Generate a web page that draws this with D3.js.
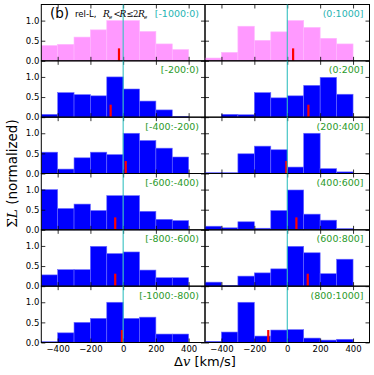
<!DOCTYPE html>
<html><head><meta charset="utf-8">
<script src="https://cdn.jsdelivr.net/npm/d3@7"></script>
<style>body{margin:0;background:#fff}svg{display:block}</style>
</head><body>
<script>
const binStarts = [-500,-400,-300,-200,-100,0,100,200,300,400];
const binWidth = 100;
const panelLabels = [
  ["[-1000:0)","(0:1000]"],
  ["[-200:0)","(0:200]"],
  ["[-400:-200)","(200:400]"],
  ["[-600:-400)","(400:600]"],
  ["[-800:-600)","(600:800]"],
  ["[-1000:-800)","(800:1000]"]
];
const leftValues = [
  [0.38,0.41,0.59,0.77,1.0,1.0,0.73,0.42,0.28,0],
  [0.07,0.61,0.56,0.53,1.0,0.70,0.40,0.18,0.02,0],
  [0.53,0.11,0.39,0.53,0.47,1.0,0.82,0.63,0.41,0],
  [1.0,0.53,0.64,0.48,0.85,0.85,0.46,0.26,0.23,0],
  [0.28,0.41,0.41,0.99,0.81,0.85,0.40,0.21,0.21,0],
  [0.02,0.24,0.50,0.60,1.0,0.60,0.63,0.21,0.21,0]
];
const rightValues = [
  [0.07,0.21,0.86,0.51,0.72,1.0,0.83,0.56,0.42,0],
  [0,0.07,0.06,0.61,0.48,0.53,0.79,0.99,0.57,0],
  [0.02,0.02,0.49,0.68,0.59,0.16,1.0,0.12,0.04,0],
  [0.09,0.05,0.20,0.04,0.48,0.99,0.39,0.24,0.03,0],
  [0.10,0.02,0.25,0.33,0.43,0.99,0.83,0.31,0.67,0],
  [0.03,0.26,1.0,0.16,0.31,0.32,0.11,0.06,0.08,0]
];
const leftMarkers = [-26,-77,15,-49,-49,-8];
const rightMarkers = [35,128,-6,55,124,-116];
const markerHeight = 0.31;
const xTicks = [-400,-200,0,200,400];
const yTicks = [0,0.5,1.0];
const yTickLabels = ["0.0","0.5","1.0"];

const W=374,H=375;
const svg=d3.select("body").append("svg").attr("width",W).attr("height",H)
  .style("font-family","DejaVu Sans");
const colX=[[41.3,205],[205,369.5]];
const top0=4.5, bot=342.5, nRows=6, rowH=(bot-top0)/nRows;

for(let r=0;r<nRows;r++){
  for(let c=0;c<2;c++){
    const x=d3.scaleLinear().domain([-500,500]).range(colX[c]);
    const y0=top0+r*rowH;
    const y=d3.scaleLinear().domain([0,1.4]).range([y0+rowH,y0]);
    const g=svg.append("g");
    const vals=c===0?leftValues[r]:rightValues[r];
    const fill=r===0?"#ff99ff":"#0000ff";
    const edge=r===0?"#ffb8ff":"#6a6aff";
    g.selectAll("rect.bar").data(binStarts.map((b,i)=>({b,v:vals[i]})).filter(d=>d.v>0))
      .enter().append("rect").attr("class","bar")
      .attr("x",d=>x(d.b)).attr("width",d=>x(d.b+binWidth)-x(d.b))
      .attr("y",d=>y(d.v)).attr("height",d=>y(0)-y(d.v))
      .attr("fill",fill).attr("stroke",edge).attr("stroke-width",0.6);
    const m=c===0?leftMarkers[r]:rightMarkers[r];
    g.append("rect").attr("x",x(m)-1).attr("width",2.2)
      .attr("y",y(markerHeight)).attr("height",y(0)-y(markerHeight)).attr("fill","#ff0000");
    const axB=d3.axisBottom(x).tickValues(xTicks).tickSizeInner(-4).tickSizeOuter(0)
      .tickFormat(r===nRows-1?(d=>d===0?"0":d3.format("")(d).replace("-","\u2212")):"");
    const gb=g.append("g").attr("transform",`translate(0,${y(0)})`).call(axB);
    const axT=d3.axisTop(x).tickValues(xTicks).tickSizeInner(-4).tickSizeOuter(0).tickFormat("");
    const gt=g.append("g").attr("transform",`translate(0,${y0})`).call(axT);
    const axL=d3.axisLeft(y).tickValues(yTicks).tickSizeInner(-4).tickSizeOuter(0)
      .tickFormat(c===0?((d,i)=>yTickLabels[i]):"");
    const gl=g.append("g").attr("transform",`translate(${colX[c][0]},0)`).call(axL);
    const axR=d3.axisRight(y).tickValues(yTicks).tickSizeInner(-4).tickSizeOuter(0).tickFormat("");
    const gr=g.append("g").attr("transform",`translate(${colX[c][1]},0)`).call(axR);
    [gb,gt,gl,gr].forEach(a=>{a.select(".domain").remove();
      a.selectAll("text").attr("font-size",8.5).attr("font-family","DejaVu Sans").attr("fill","#000");
      a.selectAll("line").attr("stroke","#000").attr("stroke-width",0.8);});
    gb.selectAll("text").attr("dy","0.9em").attr("y",1.5);
    gl.selectAll("text").attr("x",-2);
    g.append("rect").attr("x",colX[c][0]).attr("y",y0).attr("width",colX[c][1]-colX[c][0])
      .attr("height",rowH).attr("fill","none").attr("stroke","#000").attr("stroke-width",1);
    g.append("line").attr("x1",x(0)).attr("x2",x(0)).attr("y1",y0).attr("y2",y0+rowH)
      .attr("stroke","#22bbbb").attr("stroke-width",1);
    g.append("text").attr("x",colX[c][1]-6).attr("y",y0+12.5).attr("text-anchor","end")
      .attr("font-size",9.5).attr("fill",r===0?"#1fb3b3":"#2a9a2a").text(panelLabels[r][c]);
  }
}
// title
svg.append("text").attr("x",50).attr("y",17.5).attr("font-size",13.5).text("(b)");
svg.append("text").attr("x",75).attr("y",17).attr("font-size",8.5).text("rel-L,");
const mathParts=[
  {t:"R",x:103,it:true,fs:9,dy:0},
  {t:"e",x:109,it:true,fs:5.5,dy:2},
  {t:"<",x:113.5,it:false,fs:8.5,dy:0},
  {t:"R",x:119.5,it:true,fs:9,dy:0},
  {t:"\u2264",x:126.5,it:false,fs:8.5,dy:0},
  {t:"2",x:133,it:false,fs:8.5,dy:0},
  {t:"R",x:138,it:true,fs:9,dy:0},
  {t:"e",x:144,it:true,fs:5.5,dy:2}
];
svg.selectAll("text.math").data(mathParts).enter().append("text").attr("class","math")
  .attr("x",d=>d.x).attr("y",d=>17+d.dy).attr("font-size",d=>d.fs)
  .attr("font-family","DejaVu Serif").attr("font-style",d=>d.it?"italic":"normal").text(d=>d.t);
// axis labels
const yl=svg.append("text").attr("transform",`translate(17,173.5) rotate(-90)`)
  .attr("text-anchor","middle").attr("font-size",13.5);
yl.append("tspan").attr("font-family","DejaVu Serif").text("\u03A3");
yl.append("tspan").attr("font-family","DejaVu Serif").attr("font-style","italic").text("L");
yl.append("tspan").text(" (normalized)");
const xl=svg.append("text").attr("x",205).attr("y",366).attr("text-anchor","middle").attr("font-size",13);
xl.append("tspan").text("\u0394");
xl.append("tspan").attr("font-family","DejaVu Serif").attr("font-style","italic").text("v");
xl.append("tspan").text(" [km/s]");
</script>
</body></html>
